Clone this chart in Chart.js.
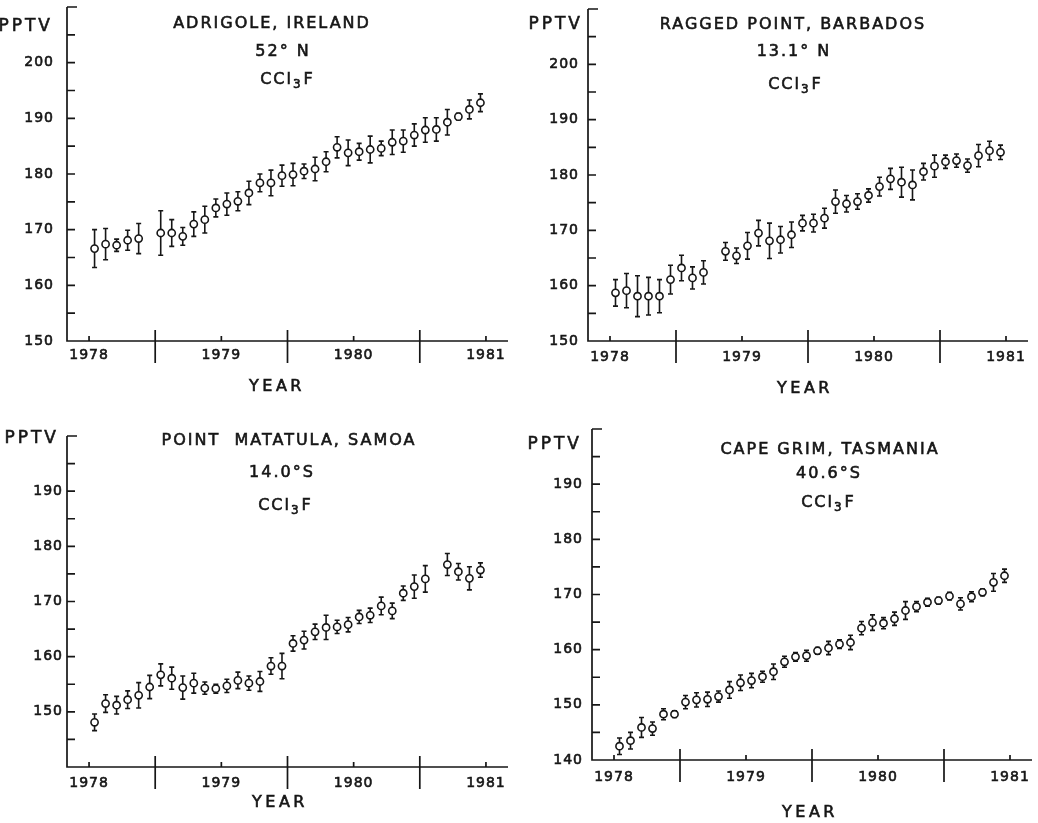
<!DOCTYPE html>
<html lang="en">
<head>
    <meta charset="UTF-8">
    <title>CCl3F at four ALE stations, 1978-1981</title>
    <style>
        * { margin: 0; padding: 0; box-sizing: border-box; }
        body { background: #fff; width: 1038px; height: 823px; position: relative; overflow: hidden; }
        .panel { position: absolute; }
    </style>
</head>
<body>
    <div class="panel" style="left:0;top:0"><canvas id="c1" width="520" height="400"></canvas></div>
    <div class="panel" style="left:520px;top:0"><canvas id="c2" width="518" height="400"></canvas></div>
    <div class="panel" style="left:0;top:400px"><canvas id="c3" width="520" height="423"></canvas></div>
    <div class="panel" style="left:520px;top:400px"><canvas id="c4" width="518" height="423"></canvas></div>

    <script src="https://cdn.jsdelivr.net/npm/chart.js"></script>
    <script>
        // x axis: months counted from the "1978" tick
        const yearLabels = ['1978', '1979', '1980', '1981'];
        const yearMonths = [0, 12, 24, 36];
        const halfYearMonths = [6, 18, 30];

        // Adrigole, Ireland
        const adrMonth = [0,1,2,3,4,6,7,8,9,10,11,12,13,14,15,16,17,18,19,20,21,22,23,24,25,26,27,28,29,30,31,32,33,34,35];
        const adrPptv = [166.6,167.4,167.2,168.1,168.4,169.4,169.4,168.8,171.0,171.8,173.9,174.6,175.1,176.6,178.4,178.4,179.7,179.9,180.5,180.9,182.2,184.8,183.8,184.0,184.4,184.6,185.7,185.9,187.0,187.9,188.0,189.3,190.3,191.6,192.8];
        const adrErr = [3.4,2.8,1.1,1.8,2.7,4.0,2.4,1.6,2.2,2.4,1.6,2.0,1.7,2.1,1.6,2.3,1.9,2.0,1.3,2.1,1.8,1.9,2.3,1.5,2.4,1.3,2.2,2.0,2.0,2.2,2.1,2.3,0.6,1.7,1.6];
        const adrYLabels = [150,160,170,180,190,200];

        // Ragged Point, Barbados
        const barMonth = [0,1,2,3,4,5,6,7,8,10,11,12,13,14,15,16,17,18,19,20,21,22,23,24,25,26,27,28,29,30,31,32,33,34,35];
        const barPptv = [158.7,159.1,158.1,158.1,158.1,161.1,163.2,161.4,162.4,166.2,165.4,167.2,169.5,168.1,168.3,169.2,171.3,171.3,172.2,175.2,174.8,175.2,176.3,177.9,179.3,178.7,178.2,180.6,181.6,182.4,182.6,181.7,183.5,184.4,184.1];
        const barErr = [2.4,3.1,3.7,3.4,3.0,2.6,2.3,2.0,2.1,1.6,1.4,2.4,2.3,3.2,2.4,2.3,1.4,1.6,1.8,2.1,1.5,1.4,1.2,1.7,1.9,2.7,2.7,1.5,2.0,1.2,1.2,1.2,2.0,1.7,1.3];
        const barYLabels = [150,160,170,180,190,200];

        // Point Matatula, Samoa
        const smoMonth = [0,1,2,3,4,5,6,7,8,9,10,11,12,13,14,15,16,17,18,19,20,21,22,23,24,25,26,27,28,29,30,32,33,34,35];
        const smoPptv = [148.1,151.5,151.2,152.2,153.0,154.5,156.7,156.1,154.4,155.2,154.3,154.2,154.7,155.7,155.2,155.5,158.3,158.3,162.4,163.0,164.5,165.3,165.4,165.8,167.2,167.5,169.2,168.3,171.5,172.7,174.1,176.7,175.4,174.2,175.7];
        const smoErr = [1.5,1.6,1.6,1.6,2.3,2.1,2.0,2.0,2.1,1.8,1.1,0.8,1.2,1.5,1.3,1.8,1.5,2.3,1.4,1.6,1.4,2.2,1.2,1.3,1.2,1.3,1.6,1.4,1.3,2.1,2.4,2.0,1.5,2.1,1.3];
        const smoYLabels = [150,160,170,180,190];

        // Cape Grim, Tasmania
        const cgoMonth = [0,1,2,3,4,5,6,7,8,9,10,11,12,13,14,15,16,17,18,19,20,21,22,23,24,25,26,27,28,29,30,31,32,33,34,35];
        const cgoPptv = [142.5,143.5,145.9,145.7,148.3,148.3,150.5,150.9,151.0,151.5,152.7,154.0,154.4,155.1,156.0,157.8,158.7,158.9,159.8,160.3,161.0,161.3,163.9,164.9,164.8,165.6,167.1,167.8,168.6,168.9,169.7,168.3,169.6,170.4,172.2,173.4];
        const cgoErr = [1.5,1.5,1.8,1.2,1.0,0.6,1.2,1.3,1.3,1.0,1.5,1.4,1.3,1.0,1.4,1.0,0.8,1.0,0.6,1.2,0.8,1.3,1.2,1.4,1.0,1.2,1.6,0.9,0.7,0.6,0.7,1.1,0.9,0.6,1.6,1.2];
        const cgoYLabels = [140,150,160,170,180,190];

        const ink = '#161616';
        const face = '"DejaVu Sans", sans-serif';

        const panels = [
            { id: 'c1', w: 520, h: 400, area: { l: 67, t: 7, r: 508, b: 341 }, yMin: 150, yMax: 210, yLabels: adrYLabels,
              months: adrMonth, pptv: adrPptv, err: adrErr, station: 'ADRIGOLE, IRELAND', lat: '52° N',
              pos: [[272, 24], [283, 52], [287, 80]], unit: [53, 27], year: [277, 387], yPad: 13, xPad: 5.6 },
            { id: 'c2', w: 518, h: 400, area: { l: 68, t: 9, r: 508, b: 341 }, yMin: 150, yMax: 210, yLabels: barYLabels,
              months: barMonth, pptv: barPptv, err: barErr, station: 'RAGGED POINT, BARBADOS', lat: '13.1° N',
              pos: [[273, 25], [274, 52], [275, 85]], unit: [63, 25], year: [285, 389], yPad: 9, xPad: 7.6 },
            { id: 'c3', w: 520, h: 423, area: { l: 67, t: 36, r: 508, b: 367 }, yMin: 140, yMax: 200, yLabels: smoYLabels,
              months: smoMonth, pptv: smoPptv, err: smoErr, station: 'POINT  MATATULA, SAMOA', lat: '14.0°S',
              pos: [[289, 41], [282, 73], [285, 106]], unit: [59, 39], year: [280, 403], yPad: 4, xPad: 7.6 },
            { id: 'c4', w: 518, h: 423, area: { l: 72, t: 29, r: 512, b: 360 }, yMin: 140, yMax: 200, yLabels: cgoYLabels,
              months: cgoMonth, pptv: cgoPptv, err: cgoErr, station: 'CAPE GRIM, TASMANIA', lat: '40.6°S',
              pos: [[310, 50], [309, 74], [308, 103]], unit: [62, 45], year: [290, 413], yPad: 9, xPad: 8.6 }
        ];

        // heavier lettering: fill plus a thin outline
        function ink_text(ctx, s, x, y) {
            ctx.fillText(s, x, y);
            ctx.strokeText(s, x, y);
        }

        // "CCl3F" with a real subscript 3
        function formula(ctx, cx, cy) {
            const big = '16px ' + face, small = '12px ' + face;
            ctx.font = big;
            const w1 = ctx.measureText('CCl').width;
            const w3 = ctx.measureText('F').width;
            ctx.font = small;
            const w2 = ctx.measureText('3').width;
            let x = cx - (w1 + w2 + w3) / 2;
            ctx.textAlign = 'left';
            ctx.font = big;
            ink_text(ctx, 'CCl', x, cy);
            ctx.font = small;
            ink_text(ctx, '3', x + w1, cy + 5);
            ctx.font = big;
            ink_text(ctx, 'F', x + w1 + w2 + 1, cy);
            ctx.textAlign = 'center';
        }

        // error bars go under the open circles
        const errorBars = {
            id: 'errorBars',
            beforeDatasetsDraw(chart) {
                const ctx = chart.ctx, y = chart.scales.y;
                const ds = chart.data.datasets[0];
                const meta = chart.getDatasetMeta(0);
                ctx.save();
                ctx.strokeStyle = ink;
                ctx.lineWidth = 1.6;
                meta.data.forEach((pt, i) => {
                    const v = ds.data[i].y, e = ds.errors[i];
                    const top = y.getPixelForValue(v + e), bot = y.getPixelForValue(v - e);
                    ctx.beginPath();
                    ctx.moveTo(pt.x, top); ctx.lineTo(pt.x, bot);
                    ctx.moveTo(pt.x - 2.5, top); ctx.lineTo(pt.x + 2.5, top);
                    ctx.moveTo(pt.x - 2.5, bot); ctx.lineTo(pt.x + 2.5, bot);
                    ctx.stroke();
                });
                ctx.restore();
            }
        };

        // axis lines, inward ticks, and the captions
        const frame = {
            id: 'frame',
            beforeDraw(chart) { chart.ctx.letterSpacing = '1px'; },
            afterDraw(chart, args, opts) {
                const cfg = opts.cfg;
                const ctx = chart.ctx, xs = chart.scales.x, ys = chart.scales.y;
                const a = chart.chartArea;
                ctx.save();
                ctx.strokeStyle = ink;
                ctx.lineWidth = 1.7;
                ctx.beginPath();
                ctx.moveTo(a.left, a.top); ctx.lineTo(a.left, a.bottom); ctx.lineTo(a.right, a.bottom);
                ys.ticks.forEach(t => {
                    const py = ys.getPixelForValue(t.value);
                    ctx.moveTo(a.left, py); ctx.lineTo(a.left + (t.value === cfg.yMax ? 10 : 8), py);
                });
                yearMonths.forEach(m => {
                    const px = xs.getPixelForValue(m);
                    ctx.moveTo(px, a.bottom); ctx.lineTo(px, a.bottom - 5);
                });
                halfYearMonths.forEach(m => {
                    const px = xs.getPixelForValue(m);
                    ctx.moveTo(px, a.bottom - 11); ctx.lineTo(px, a.bottom + 22);
                });
                ctx.stroke();

                ctx.fillStyle = ink;
                ctx.lineWidth = 0.6;
                ctx.textBaseline = 'middle';
                ctx.textAlign = 'center';
                ctx.letterSpacing = '2px';
                ctx.font = '16px ' + face;
                ink_text(ctx, cfg.station, cfg.pos[0][0], cfg.pos[0][1]);
                ink_text(ctx, cfg.lat, cfg.pos[1][0], cfg.pos[1][1]);
                formula(ctx, cfg.pos[2][0], cfg.pos[2][1]);
                ctx.letterSpacing = '3.5px';
                ctx.font = '16px ' + face;
                ink_text(ctx, 'YEAR', cfg.year[0], cfg.year[1]);
                ctx.textAlign = 'right';
                ctx.letterSpacing = '3px';
                ctx.font = '17px ' + face;
                ink_text(ctx, 'PPTV', cfg.unit[0], cfg.unit[1]);
                ctx.restore();
            }
        };

        function makePanel(cfg) {
            const a = cfg.area;
            const points = cfg.months.map((m, i) => ({ x: m + 0.5, y: cfg.pptv[i] }));
            new Chart(document.getElementById(cfg.id), {
                type: 'scatter',
                data: {
                    datasets: [{
                        data: points,
                        errors: cfg.err,
                        pointRadius: 3.6,
                        pointBorderWidth: 1.6,
                        pointBackgroundColor: '#fff',
                        pointBorderColor: ink
                    }]
                },
                options: {
                    responsive: false,
                    animation: false,
                    devicePixelRatio: 1,
                    layout: { padding: { left: 0, top: a.t, right: cfg.w - a.r, bottom: 0 } },
                    plugins: {
                        legend: { display: false },
                        tooltip: { enabled: false },
                        frame: { cfg: cfg }
                    },
                    scales: {
                        x: {
                            type: 'linear', min: -2, max: 38,
                            afterBuildTicks: s => { s.ticks = yearMonths.map(v => ({ value: v })); },
                            afterFit: s => { s.height = cfg.h - a.b; s.paddingLeft = 0; s.paddingRight = 0; },
                            ticks: {
                                autoSkip: false, maxRotation: 0, padding: cfg.xPad, color: ink,
                                textStrokeColor: ink, textStrokeWidth: 0.6,
                                font: { family: face, size: 14 },
                                callback: v => yearLabels[yearMonths.indexOf(v)]
                            },
                            grid: { display: false, drawTicks: false },
                            border: { display: false }
                        },
                        y: {
                            min: cfg.yMin, max: cfg.yMax,
                            afterFit: s => { s.width = a.l; s.paddingTop = 0; s.paddingBottom = 0; },
                            ticks: {
                                stepSize: 5, autoSkip: false, padding: cfg.yPad, color: ink,
                                textStrokeColor: ink, textStrokeWidth: 0.6,
                                font: { family: face, size: 14 },
                                callback: v => cfg.yLabels.includes(v) ? String(v) : ''
                            },
                            grid: { display: false, drawTicks: false },
                            border: { display: false }
                        }
                    }
                },
                plugins: [errorBars, frame]
            });
        }

        panels.forEach(makePanel);
    </script>
</body>
</html>
